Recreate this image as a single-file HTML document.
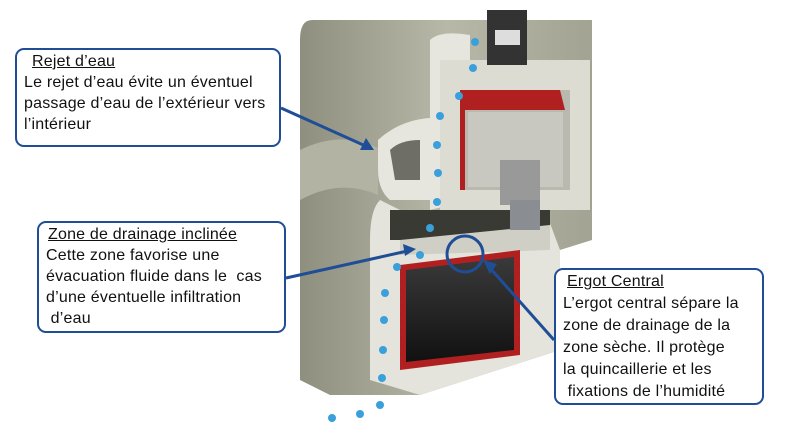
<!DOCTYPE html>
<html><head><meta charset="utf-8"><style>
html,body{margin:0;padding:0;background:#fff;width:790px;height:442px;overflow:hidden;font-family:"Liberation Sans",sans-serif}
.box{position:absolute;border:2px solid #1f4e96;border-radius:9px;background:#fff;color:#111;font-size:16px;line-height:21px;box-sizing:border-box;white-space:nowrap;letter-spacing:0.2px}
.t{text-decoration:underline}
</style></head><body>
<svg width="790" height="442" style="position:absolute;left:0;top:0">
<defs>
<linearGradient id="g1" x1="0" y1="0" x2="1" y2="0"><stop offset="0" stop-color="#8f8f80"/><stop offset=".5" stop-color="#b8b8a8"/><stop offset="1" stop-color="#a3a393"/></linearGradient>
<linearGradient id="g2" x1="0" y1="0" x2="0" y2="1"><stop offset="0" stop-color="#3a3a3a"/><stop offset="1" stop-color="#111"/></linearGradient>
</defs>
<path d="M312 20 H592 V240 L560 250 V350 L420 395 H330 L300 380 V40 Q300 20 312 20Z" fill="url(#g1)"/>
<!-- rejet d'eau nose -->
<path d="M300 150 Q340 130 378 148 L378 195 Q340 178 300 200Z" fill="#b3b3a3"/>
<path d="M378 140 Q400 120 430 118 V200 L390 200 Q378 190 378 170Z" fill="#e6e6de"/>
<path d="M390 150 Q400 140 420 140 V180 H395Z" fill="#6e6e66"/>
<!-- upper sash -->
<path d="M430 40 Q440 30 470 35 L470 200 L430 210 V120Z" fill="#e6e6de"/>
<path d="M440 60 H590 V210 H440Z" fill="#dcdcd2"/>
<rect x="460" y="90" width="110" height="100" fill="#b9b9b0"/>
<path d="M460 90 H560 L565 110 H465 V190 H460Z" fill="#b02020"/>
<rect x="468" y="112" width="95" height="75" fill="#c8c8c0"/>
<rect x="487" y="10" width="40" height="55" fill="#333"/>
<rect x="495" y="30" width="25" height="15" fill="#ddd"/>
<rect x="500" y="160" width="40" height="45" fill="#999"/>
<!-- lower frame -->
<path d="M380 200 Q370 210 370 240 V380 L420 395 L560 350 V250 L545 210 H400Z" fill="#e4e4dc"/>
<rect x="390" y="210" width="160" height="30" fill="#3a3a35"/>
<path d="M400 240 L550 225 V250 L400 255Z" fill="#cfcfc6"/>
<path d="M400 265 L520 250 V355 L400 370Z" fill="#b02020"/>
<path d="M406 270 L514 257 V350 L406 362Z" fill="url(#g2)"/>
<rect x="510" y="200" width="30" height="30" fill="#8a8e92"/>
<g fill="#3aa0dc">
<circle cx="475" cy="42" r="4"/><circle cx="473" cy="68" r="4"/><circle cx="459" cy="96" r="4"/><circle cx="440" cy="116" r="4"/><circle cx="437" cy="145" r="4"/><circle cx="438" cy="173" r="4"/><circle cx="437" cy="202" r="4"/><circle cx="430" cy="228" r="4"/><circle cx="420" cy="255" r="4"/><circle cx="397" cy="267" r="4"/><circle cx="385" cy="293" r="4"/><circle cx="384" cy="320" r="4"/><circle cx="383" cy="350" r="4"/><circle cx="382" cy="378" r="4"/><circle cx="380" cy="405" r="4"/><circle cx="360" cy="414" r="4"/><circle cx="332" cy="418" r="4"/>
</g>
<g stroke="#1f4e96" stroke-width="3" fill="none">
<line x1="281" y1="108" x2="370" y2="148"/>
<line x1="286" y1="278" x2="412" y2="250"/>
<circle cx="465" cy="254" r="18"/>
<line x1="554" y1="340" x2="490" y2="268"/>
</g>
<g fill="#1f4e96">
<polygon points="374,150 360,150 366,138"/>
<polygon points="416,249 403,244 405,256"/>
<polygon points="483,260 490,274 497,264"/>
</g>
</svg>
<div class="box" style="left:15px;top:48px;width:266px;height:99px;padding:1px 0 0 7px"><div class="t" style="padding-left:8px">Rejet d’eau </div>Le rejet d’eau évite un éventuel<br>passage d’eau de l’extérieur vers<br>l’intérieur</div>
<div class="box" style="left:37px;top:221px;width:249px;height:112px;padding:1px 0 0 7px"><div class="t" style="padding-left:2px">Zone de drainage inclinée</div>Cette zone favorise une<br>évacuation fluide dans le &nbsp;cas<br>d’une éventuelle infiltration<br>&nbsp;d’eau</div>
<div class="box" style="left:554px;top:268px;width:210px;height:137px;padding:1px 0 0 7px;line-height:22px"><div class="t" style="padding-left:4px">Ergot Central</div>L’ergot central sépare la<br>zone de drainage de la<br>zone sèche. Il protège<br>la quincaillerie et les<br>&nbsp;fixations de l’humidité</div>
</body></html>
